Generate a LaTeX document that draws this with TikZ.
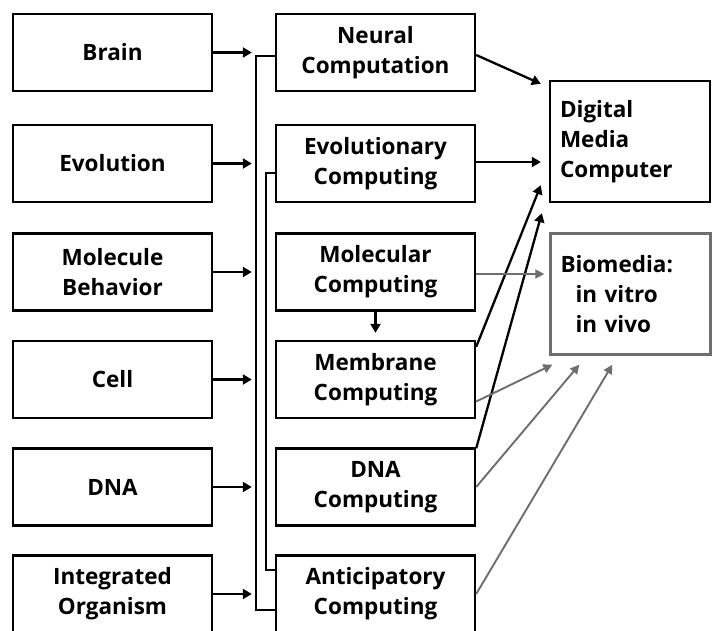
\documentclass[tikz,border=0pt]{standalone}
\usepackage{fontspec}
\setmainfont{Open Sans}
\usetikzlibrary{arrows.meta,calc}
\definecolor{gline}{HTML}{6E6E6E}
\begin{document}
\begin{tikzpicture}[x=1pt,y=-1pt,
  txt/.style={font=\fontsize{22.5}{30}\selectfont\bfseries},
  box/.style={txt,draw,line width=2.4pt,minimum width=199pt,minimum height=77pt,align=center,inner sep=0pt},
  rbox/.style={txt,draw,line width=2.4pt,minimum width=160pt,minimum height=121pt,text width=140pt,inner xsep=10pt,inner ysep=0pt,align=left},
  arr/.style={line width=2.3pt,-{Triangle[length=9pt,width=10pt]}},
  garr/.style={line width=1.9pt,draw=gline,-{Triangle[length=9pt,width=9pt]}},
  bus/.style={line width=2.3pt}
]
\fill[white] (0,0) rectangle (712,630);
\useasboundingbox (0,0) rectangle (712,630);

% left column
\node[box] (brain) at (112.5,52.5) {Brain};
\node[box] (evol)  at (112.5,163.5) {Evolution};
\node[box] (molb)  at (112.5,272) {Molecule\\Behavior};
\node[box] (cell)  at (112.5,379.5) {Cell};
\node[box] (dna)   at (112.5,487) {DNA};
\node[box] (integ) at (112.5,594) {Integrated\\Organism};

% middle column
\node[box] (neural) at (375.5,52.5) {Neural\\Computation};
\node[box] (evolc)  at (375.5,163.5) {Evolutionary\\Computing};
\node[box] (molc)   at (375.5,272) {Molecular\\Computing};
\node[box] (membc)  at (375.5,379.5) {Membrane\\Computing};
\node[box] (dnac)   at (375.5,487) {DNA\\Computing};
\node[box] (antic)  at (375.5,594) {Anticipatory\\Computing};

% right column
\node[rbox] (digital) at (630,141.5) {Digital\\Media\\Computer};
\node[rbox,draw=gline] (bio) at (630.5,294) {Biomedia:\\\hspace*{15pt}in vitro\\\hspace*{15pt}in vivo};

% left to middle arrows
\foreach \a/\b in {brain/neural,evol/evolc,molb/molc,cell/membc,dna/dnac,integ/antic}
  \draw[arr,shorten >=23pt] (\a.east) -- (\b.west);

% bus lines
\draw[bus] ([yshift=-3.5pt]neural.west) -- ++(-19,0) |- ([yshift=-16pt]antic.west);
\draw[bus] ([yshift=-9.5pt]evolc.west) -- ++(-9,0) |- ([yshift=24pt]antic.west);

% molecular -> membrane
\draw[arr,shorten >=7pt] (molc.south) -- (membc.north);

% to digital
\draw[arr] ([yshift=-2.5pt]neural.east) -- ([xshift=-8pt,yshift=-4pt]digital.north west);
\draw[arr,shorten >=8pt] ([yshift=1.5pt]evolc.east) -- ([yshift=1.5pt]evolc.east -| digital.west);
\draw[arr] ([yshift=-7pt]membc.north east) -- ([xshift=-8pt,yshift=18pt]digital.south west);
\draw[arr] ([yshift=-1pt]dnac.north east) -- ([xshift=-7pt,yshift=-10pt]digital.south west);

% to biomedia
\draw[garr,shorten >=5pt] ([yshift=-2pt]molc.east) -- ([yshift=-2pt]molc.east -| bio.west);
\draw[garr] ([yshift=-22pt]membc.east) -- ([xshift=3pt,yshift=-9pt]bio.south west);
\draw[garr] (dnac.east) -- ([xshift=30pt,yshift=-9pt]bio.south west);
\draw[garr] (antic.east) -- ([xshift=63pt,yshift=-9pt]bio.south west);
\end{tikzpicture}
\end{document}
